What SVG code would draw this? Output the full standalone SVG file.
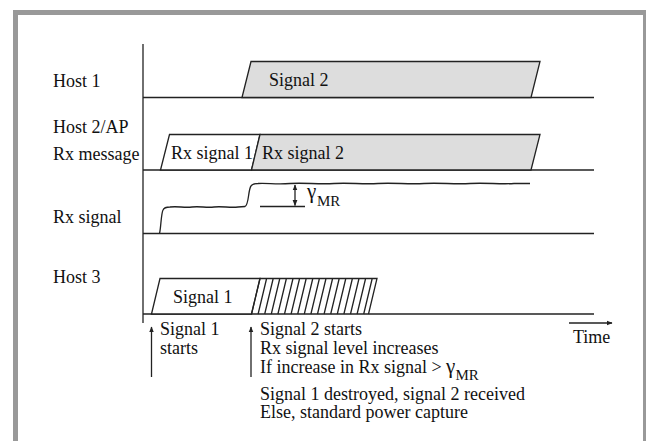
<svg xmlns="http://www.w3.org/2000/svg" width="646" height="441" viewBox="0 0 646 441">
<defs>
<style>
.ln{stroke:#222;stroke-width:1.3;fill:none}
.box{stroke:#222;stroke-width:1.3;stroke-linejoin:miter}
text{font-family:'Liberation Serif','Times New Roman',Times,'DejaVu Serif',serif;fill:#111}
.t{font-size:18px}
.sub{font-size:15px}
.g{font-size:21px}
</style>
<marker id="ah" viewBox="0 0 10 10" refX="9" refY="5" markerWidth="6" markerHeight="6" orient="auto-start-reverse" markerUnits="userSpaceOnUse">
<path d="M0,1 L10,5 L0,9 z" fill="#222"/>
</marker>
</defs>
<rect x="15.5" y="12.5" width="630" height="500" fill="#fff" stroke="#999" stroke-width="5"/>

<g id="axes">
<line class="ln" x1="143" y1="44" x2="143" y2="323"/>
<line class="ln" x1="143" y1="97.5" x2="594" y2="97.5"/>
<line class="ln" x1="143" y1="170" x2="594" y2="170"/>
<line class="ln" x1="143" y1="233.5" x2="594" y2="233.5"/>
<line class="ln" x1="143" y1="314" x2="594" y2="314"/>
</g>

<g id="labels">
<text class="t" x="53" y="87" font-family="Liberation Serif, serif">Host 1</text>
<text class="t" x="53" y="133">Host 2/AP</text>
<text class="t" x="53" y="160">Rx message</text>
<text class="t" x="53" y="223">Rx signal</text>
<text class="t" x="53" y="283">Host 3</text>
</g>

<g id="host1-signal2">
<polygon class="box" points="242,97.5 251,61.5 540,61.5 531,97.5" fill="#ddd"/>
<text class="t" x="269" y="86">Signal 2</text>
</g>

<g id="rx-signal1">
<polygon class="box" points="160.5,170 169.5,134.5 260,134.5 251.5,170" fill="#fff"/>
<text class="t" x="171" y="159">Rx signal 1</text>
</g>

<g id="rx-signal2">
<polygon class="box" points="251.5,170 260,134.5 540,134.5 531,170" fill="#ddd"/>
<text class="t" x="262" y="159">Rx signal 2</text>
</g>

<g id="rx-level">
<path class="ln" d="M159.5,233.5 C161,228 161,214 163,210 C164,207.5 166,207 170,207 C178,206 184,208 192,207 C200,206 206,208 214,207 C222,206 230,208 238,207 L245,206.5 C249,205 248,190 251,186 C252,184 254,183.5 258,183.5 C268,183 276,184.5 290,183.5 C305,182.5 318,184.5 334,183.5 C350,182.5 362,184.5 378,183.5 C394,182.5 408,184.5 424,183.5 C440,182.5 454,184.5 470,183.5 C486,182.5 500,184.5 514,183.5 L530,183.5"/>
<line class="ln" x1="260" y1="206.5" x2="305" y2="206.5"/>
<line class="ln" x1="295" y1="185" x2="295" y2="205.5" marker-start="url(#ah)" marker-end="url(#ah)"/>
<text class="g" x="307" y="198">γ</text>
<text class="sub" x="317" y="206">MR</text>
</g>

<g id="host3-signal1">
<polygon class="box" points="151.5,314 160,278.5 260,278.5 251.5,314" fill="#fff"/>
<text class="t" x="173" y="303">Signal 1</text>
</g>

<g id="host3-hatch">
<path class="ln" d="M251.5,314 L260,278.5 L377,278.5 L368.5,314
M258.1,314 L266.6,278.5 M264.7,314 L273.2,278.5 M271.3,314 L279.8,278.5 M277.9,314 L286.4,278.5
M284.5,314 L293,278.5 M291.1,314 L299.6,278.5 M297.7,314 L306.2,278.5 M304.3,314 L312.8,278.5
M310.9,314 L319.4,278.5 M317.5,314 L326,278.5 M324.1,314 L332.6,278.5 M330.7,314 L339.2,278.5
M337.3,314 L345.8,278.5 M343.9,314 L352.4,278.5 M350.5,314 L359,278.5 M357.1,314 L365.6,278.5
M363.7,314 L372.2,278.5"/>
</g>

<g id="connectors">
<line class="ln" x1="151.5" y1="377" x2="151.5" y2="327" marker-end="url(#ah)"/>
<line class="ln" x1="251" y1="377" x2="251" y2="327" marker-end="url(#ah)"/>
<line class="ln" x1="569" y1="323" x2="612" y2="323" marker-end="url(#ah)"/>
</g>

<g id="annotations">
<text class="t" x="160" y="335">Signal 1</text>
<text class="t" x="160" y="354">starts</text>
<text class="t" x="260" y="335">Signal 2 starts</text>
<text class="t" x="260" y="354">Rx signal level increases</text>
<text class="t" x="260" y="373">If increase in Rx signal &gt; <tspan class="g">γ</tspan><tspan class="sub" dy="7">MR</tspan></text>
<text class="t" x="260" y="400">Signal 1 destroyed, signal 2 received</text>
<text class="t" x="260" y="418">Else, standard power capture</text>
<text class="t" x="573" y="343">Time</text>
</g>
</svg>
